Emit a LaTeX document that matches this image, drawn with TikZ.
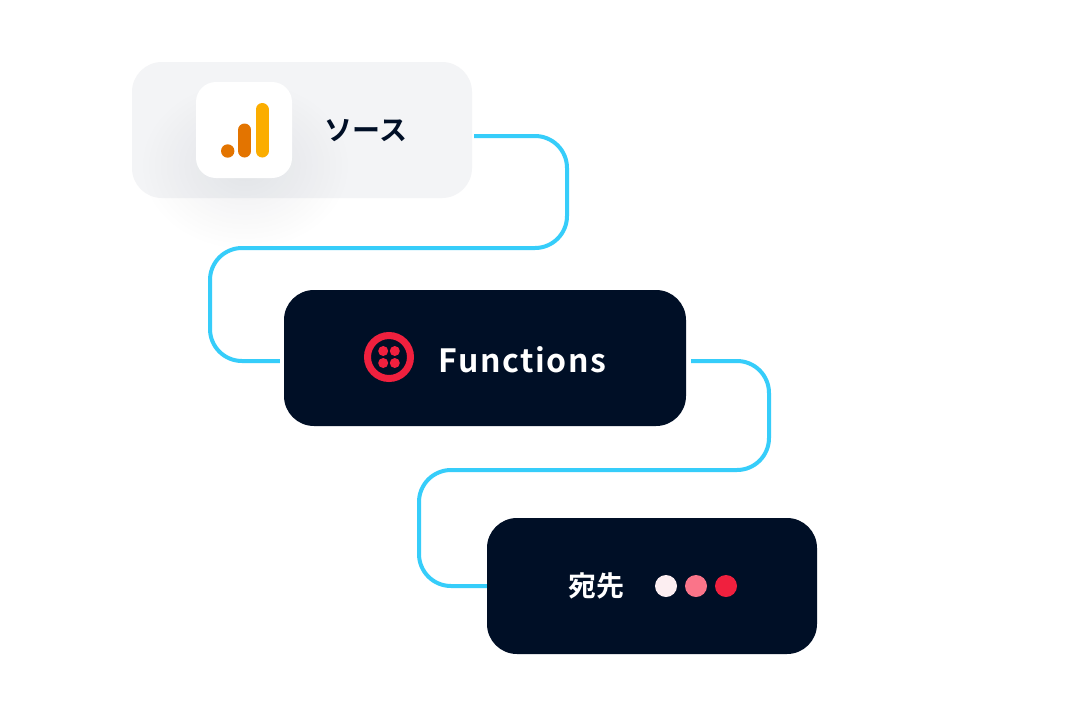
\documentclass[tikz,border=0pt]{standalone}
\usepackage{fontspec}
\setmainfont{Noto Sans CJK JP}[BoldFont={* Bold}]
\usetikzlibrary{positioning,calc,fadings}
\definecolor{navy}{HTML}{000F26}
\definecolor{cardgrey}{HTML}{F3F4F6}
\definecolor{flowblue}{HTML}{36CDFA}
\definecolor{twred}{HTML}{F0203E}
\definecolor{twpink}{HTML}{FA7489}
\definecolor{twpale}{HTML}{FCEEF1}
\definecolor{gaorange}{HTML}{E37400}
\definecolor{gayellow}{HTML}{FBAD00}
\tikzfading[name=softfade,inner color=transparent!93,outer color=transparent!100]
\tikzset{
	card/.style={rectangle,rounded corners=30pt,minimum width=#1,minimum height=136pt,inner sep=0pt},
	darkcard/.style={card=#1,fill=navy},
	flow/.style={draw=flowblue,line width=4pt,rounded corners=32pt},
	reddot/.style={circle,minimum size=22pt,inner sep=0pt},
	bar/.style={line width=13pt,line cap=round}
}
\begin{document}
\begin{tikzpicture}[x=1pt,y=-1pt]
		\useasboundingbox (0,0) rectangle (1088,716);
		\fill[white] (0,0) rectangle (1088,716); %fondo
		\node[card=340pt,fill=cardgrey] (source) at (302,130) {}; %fuente
		\fill[navy,path fading=softfade,fit fading=true] (245,165) ellipse (105 and 85); %sombra
		\node[rectangle,rounded corners=20pt,minimum size=96pt,inner sep=0pt,fill=white] (gaicon) at (244,130) {};
		\node[circle,minimum size=13.4pt,inner sep=0pt,fill=gaorange] (gadot) at (227.7,151) {};
		\draw[bar,draw=gaorange] (244.7,130) -- (244.7,151); %barra media
		\draw[bar,draw=gayellow] (262,109.5) -- (262,151); %barra alta
		\node[text=navy,font=\fontsize{28}{30}\selectfont\bfseries] (sourcelabel) at (366,131) {ソース};
		\node[darkcard=402pt] (func) at (485,358) {}; %funciones
		\node[circle,draw=twred,line width=7pt,minimum size=43pt,inner sep=0pt] (twilio) at (389,357) {};
		\foreach \dx/\dy [count=\n] in {-5.8/-6,5.8/-6,-5.8/6,5.8/6} {
			\node[circle,fill=twred,minimum size=10pt,inner sep=0pt] (tw\n) at ($(twilio)+(\dx,\dy)$) {};
		}
		\node[text=white,font=\fontsize{32}{34}\selectfont\bfseries,anchor=west,inner sep=0pt] (funclabel) at (438.5,360) {\addfontfeatures{LetterSpace=5}Functions};
		\node[darkcard=330pt] (dest) at (652,586) {}; %destino
		\node[text=white,font=\fontsize{28}{30}\selectfont\bfseries] (destlabel) at (596,586) {宛先};
		\node[reddot,fill=twpale] (dotA) at (666,586) {};
		\node[reddot,fill=twpink] (dotB) at (696,586) {};
		\node[reddot,fill=twred] (dotC) at (726,586) {};
		\draw[flow] ([shift={(2,6)}]source.east) -- (567,136) -- (567,248) -- (210,248) -- (210,361) -- ([shift={(-4,3)}]func.west);
		\draw[flow] ([shift={(5,3)}]func.east) -- (769,361) -- (769,470) -- (419,470) -- (419,586) -- (dest.west);
\end{tikzpicture}
\end{document}
